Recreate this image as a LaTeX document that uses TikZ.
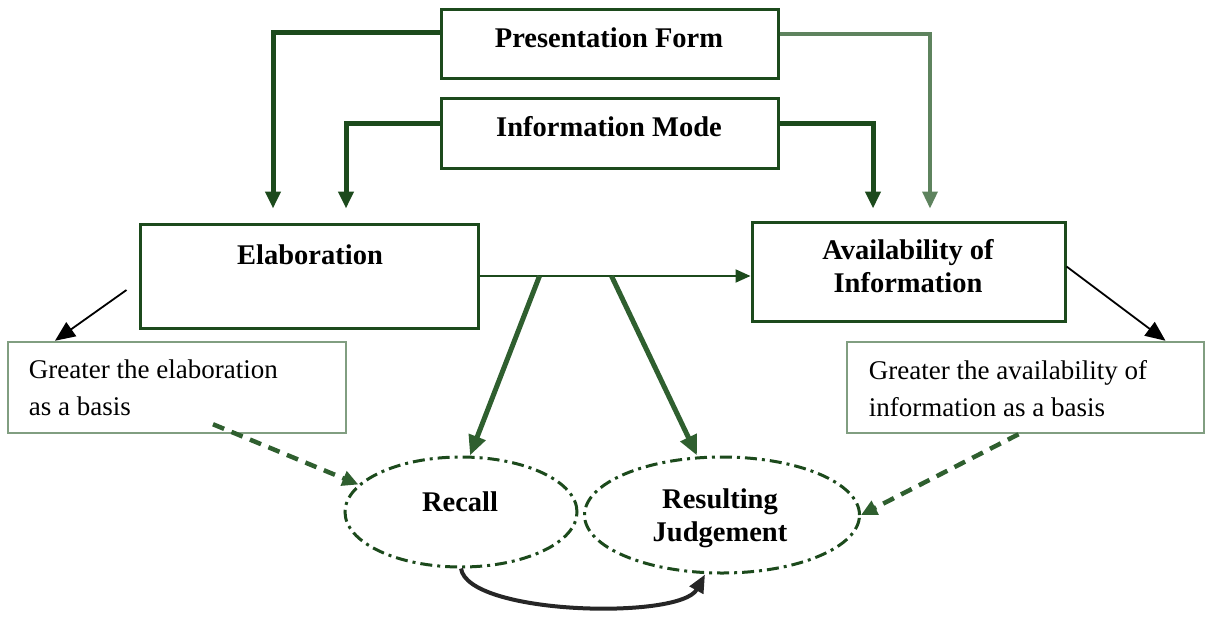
\documentclass[tikz,border=0pt]{standalone}
\usepackage{fontspec}
\setmainfont{Liberation Serif}
\usetikzlibrary{arrows.meta,shapes.geometric}

\definecolor{dkgreen}{HTML}{1C4A1C}
\definecolor{midgreen}{HTML}{2F5F2F}
\definecolor{ltgreen}{HTML}{5E835E}
\definecolor{notegreen}{HTML}{819E81}

\tikzset{
  mainbox/.style={draw=dkgreen, line width=3pt, rectangle, inner sep=0pt},
  notebox/.style={draw=notegreen, line width=2.5pt, rectangle, inner sep=0pt},
  bubble/.style={ellipse, draw=dkgreen, line width=3pt, inner sep=0pt,
    dash pattern=on 12pt off 5pt on 3pt off 5pt},
  boldtxt/.style={font=\fontsize{28.5}{33}\selectfont\bfseries, align=center, inner sep=0pt},
  notetxt/.style={font=\fontsize{27}{37}\selectfont, align=left, inner sep=0pt, anchor=west},
  feed/.style={draw=dkgreen, line width=5pt,
    -{Triangle[length=17pt,width=15pt]}},
  feedlight/.style={draw=ltgreen, line width=3.5pt,
    -{Triangle[length=17pt,width=15pt]}},
  thinlink/.style={draw=dkgreen, line width=2pt,
    -{Triangle[length=15pt,width=13pt]}},
  bigflow/.style={draw=midgreen, line width=5pt,
    -{Triangle[length=20pt,width=17pt]}},
  pointer/.style={draw=black, line width=1.8pt,
    -{Triangle[length=20pt,width=17pt]}},
  hint/.style={draw=midgreen, line width=4.5pt, dash pattern=on 12pt off 8pt,
    -{Triangle[length=16pt,width=15pt]}},
  loopback/.style={draw=black!85, line width=4pt,
    -{Triangle[length=18pt,width=15pt]}}
}

\begin{document}
\begin{tikzpicture}[x=1pt, y=-1pt]
  \useasboundingbox (0,0) rectangle (1206,621);

  % upper factor boxes
  \node[mainbox, minimum width=337pt, minimum height=69pt] (pres) at (609.5,43.5) {};
  \node[boldtxt] (prestxt) at (609,38) {Presentation Form};
  \node[mainbox, minimum width=337pt, minimum height=70pt] (info) at (609.5,133) {};
  \node[boldtxt] (infotxt) at (609,127) {Information Mode};

  % middle process boxes
  \node[mainbox, minimum width=338pt, minimum height=104pt] (elab) at (309,276) {};
  \node[boldtxt] (elabtxt) at (310,255) {Elaboration};
  \node[mainbox, minimum width=313pt, minimum height=99pt] (avail) at (908.5,271.5) {};
  \node[boldtxt] (availtxt) at (908,266.5) {Availability of\\Information};

  % explanatory notes
  \node[notebox, minimum width=338pt, minimum height=91pt] (noteL) at (177,387.5) {};
  \node[notetxt] (noteLtxt) at ([xshift=22pt]noteL.west) {Greater the elaboration\\as a basis};
  \node[notebox, minimum width=357pt, minimum height=91pt] (noteR) at (1025.5,387.5) {};
  \node[notetxt] (noteRtxt) at ([xshift=23pt,yshift=-1pt]noteR.west) {Greater the availability of\\information as a basis};

  % outcome bubbles
  \node[bubble, minimum width=232pt, minimum height=110pt] (recall) at (461,512) {};
  \node[boldtxt] (recalltxt) at (460,502) {Recall};
  \node[bubble, minimum width=275pt, minimum height=116pt] (judge) at (722,515) {};
  \node[boldtxt] (judgetxt) at (720,518.5) {Resulting\\Judgement};

  % feeds from the upper boxes
  \draw[feed] ([yshift=11.5pt]pres.west) -| ([xshift=-36pt,yshift=14pt]elab.north);
  \draw[feed] ([yshift=10pt]info.west) -| ([xshift=37pt,yshift=14pt]elab.north);
  \draw[feed] ([yshift=10pt]info.east) -| ([xshift=-35.5pt,yshift=12pt]avail.north);
  \draw[feedlight] ([yshift=9.5pt]pres.east) -| ([xshift=21.5pt,yshift=12pt]avail.north);

  % elaboration to availability
  \draw[thinlink] (elab.east) -- (elab.east -| avail.west);

  % branches down to the bubbles
  \coordinate (branchA) at ([xshift=60pt]elab.east);
  \coordinate (branchB) at ([xshift=132pt]elab.east);
  \draw[bigflow] (branchA) -- ([xshift=9pt]recall.north);
  \draw[bigflow] (branchB) -- ([xshift=-25pt]judge.north);

  % pointers to the notes
  \coordinate (elabcorner) at ([xshift=-12pt,yshift=-14pt]elab.west);
  \draw[pointer] (elabcorner) -- ([xshift=-122pt]noteL.north);
  \draw[pointer] ([yshift=5pt]avail.east) -- ([xshift=140pt]noteR.north);

  % dashed hints into the bubbles
  \draw[hint] ([xshift=36pt,yshift=10pt]noteL.south) -- (recall.165);
  \draw[hint] ([xshift=-7pt]noteR.south) -- (judge.east);

  % recall feeding the judgement
  \draw[loopback] (recall.south) .. controls (468,615) and (680,620) .. ([xshift=-17pt]judge.south);
\end{tikzpicture}
\end{document}
